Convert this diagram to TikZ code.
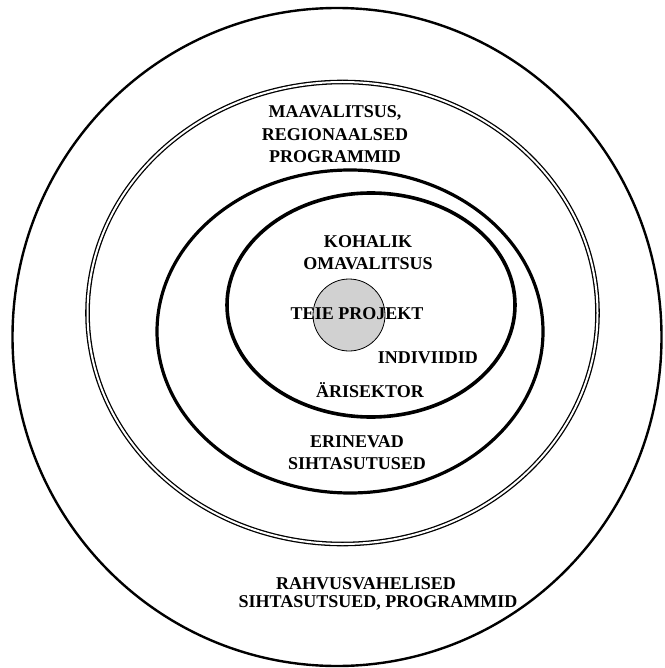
\documentclass[tikz,border=0pt]{standalone}
\usepackage{fontspec}
\setmainfont{Liberation Serif}
\usetikzlibrary{positioning}

\begin{document}
\begin{tikzpicture}[x=1pt,y=-1pt,
lbl/.style={font=\fontsize{18}{22.5}\selectfont\bfseries, align=center, inner sep=0pt},
ring/.style={line width=3.2pt}]
\useasboundingbox (0,0) rectangle (664,668);
% rings from outside in
\draw [line width=2.4pt] (337,337) ellipse [x radius=324.5, y radius=329];
\draw [double, double distance=2pt, line width=1.3pt] (342.5,313) ellipse [x radius=255, y radius=231];
\draw [ring] (350,331.5) ellipse [x radius=193, y radius=161.5];
\draw [ring, line width=3.6pt] (371,305) ellipse [x radius=144, y radius=112];
\node (proj) [circle, draw, fill=black!18, line width=0.8pt, minimum size=72pt, inner sep=0pt] at (349,315) {};

\node (maa) [lbl] at (335,134.5) {MAAVALITSUS,\\ REGIONAALSED\\ PROGRAMMID};
\node (koh) [lbl] at (368,252.5) {KOHALIK\\ OMAVALITSUS};
\node (teie) [lbl, anchor=base] at (357,319) {TEIE PROJEKT};
\node (ind) [lbl, anchor=base] at (428,363) {INDIVIIDID};
\node (ari) [lbl, anchor=base] at (370,397) {ÄRISEKTOR};
\node (eri) [lbl] at (357,452.5) {ERINEVAD\\ SIHTASUTUSED};
\node (rahv) [lbl, anchor=base] at (366,589) {RAHVUSVAHELISED};
\node (sihta) [lbl, anchor=base] at (378,607) {SIHTASUTSUED, PROGRAMMID};
\end{tikzpicture}
\end{document}
